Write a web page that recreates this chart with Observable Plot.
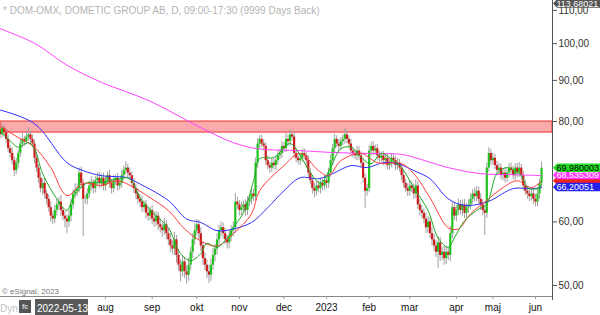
<!DOCTYPE html>
<html><head><meta charset="utf-8">
<script src="https://cdn.jsdelivr.net/npm/d3@7"></script>
<script src="https://cdn.jsdelivr.net/npm/@observablehq/plot@0.6"></script>
<style>
html,body{margin:0;padding:0;background:#fff;}
#chart{width:600px;height:315px;overflow:hidden;}
</style></head><body><div id="chart"></div>
<script>
// ---- data ----
const titleText = "* DOM-OMX, DOMETIC GROUP AB, D, 09:00-17:30 (9999 Days Back)";
const startDate = "2022-05-13";
const holidays = ["2022-05-26","2022-06-06","2022-06-24","2022-12-26","2023-01-06","2023-04-07","2023-04-10","2023-05-01","2023-05-18","2023-06-06"];
const firstLabelledMonth = "2022-08";
const monthNames = ["jan","feb","mar","apr","maj","jun","jul","aug","sep","okt","nov","dec"];
const firstOpen = 78.5;
const closes = [
78,77,78.5,77.5,76,74,73,71.5,69.5,71,
73,75,76,75.5,76.5,77,76,75,72,70,
68,66,67,65,64,62.5,61,60.5,62,63,
63.5,62,61,60.5,60,61,63,65,65.5,66,
69,67,64,64,65,66.5,67,66,67.5,68,
67,68,66.5,67.5,68.5,67,66,67.5,68,66.5,
67,68.5,69.5,70,69,68.5,67,66,65,64,
63.5,62.5,63,61.5,61,62,60.5,60,61,59.5,
59,58.5,59.5,58,57,56,55.5,57,54.5,53,
52,53.5,52,51.5,53,55,57,58.5,59.5,58,
56,54,53,52,51.5,53,54.5,55.5,57,58.5,
59,58,57,56.5,57.5,58.5,59,63.5,63,62,
62.5,63,62,63.5,64,65,64.5,71,75,76,
75,74.5,71.5,70.5,70,71,70.5,71.5,72.5,73,
74.5,74,76,75.5,77,76.5,73,72,71.5,72,
73,72.5,71.5,69,67.5,66,65.5,66.5,66,67,
66.5,67.5,67,69,71.5,74,76,75,74.5,75.5,
76,77,76,75,73.5,73,72.5,73.5,72.5,71,
68,65.5,66,73.5,74.5,73.5,74,72.5,72,72.5,
71.5,72,70.5,71,72,71.5,70.5,71,70,68.5,
67,66,65.5,66.5,66,65,66.5,63,62,61.5,
60.5,59,60,58,57,56,55,56.5,54.5,55,
54,55,54.5,58,62.5,61,62,63,62,63,
61.5,62.5,63,64,65,64.5,65.5,64,63,62,
61.5,70,73,71.5,72,70.5,69.5,70,68.5,69,
68,69,70,69.5,68.5,70,69,70,68.5,66.5,
65.5,65,64.5,65,64,63.5,65,67,69.98];
const wickUp = [
1.2,0.8,1,0.6,0.9,1,0.7,1.2,0.8,1,
0.8,1,1.4,0.7,1,1.6,0.9,1,0.8,1.2,
0.7,1,0.9,1.1,0.6,0.8,1,0.7,0.9,1,
0.8,1.2,0.6,0.8,0.7,1,1.1,0.8,1.4,0.9,
1,1.2,0.8,0.7,1,0.9,1.3,0.7,0.8,1,
1.2,0.8,1,0.9,0.7,1.1,0.8,1,0.6,0.9,
0.8,1,0.9,1.3,0.8,1,0.7,0.9,0.8,1,
0.9,1.1,0.7,0.8,1,0.6,0.9,1.2,0.8,0.7,
1,0.8,1.1,0.7,0.9,1,0.8,1.2,0.7,0.9,
0.8,1,0.7,0.9,1.1,0.8,1,1.2,0.9,0.8,
1,0.7,0.9,0.8,1,0.9,1.1,0.8,1,0.9,
1,0.8,0.9,0.7,1,0.8,1,1.6,0.9,0.8,
1,0.7,0.9,1,0.8,1.1,0.9,1,1.2,0.8,
1,0.9,0.8,1,0.7,0.9,1,0.8,1.1,0.9,
1,0.8,1.3,0.9,1.2,0.8,1,0.9,0.7,1,
0.9,1,0.8,1,0.9,0.7,1,0.8,0.9,1,
0.8,1,0.9,1,1.2,0.9,1.1,0.8,1,0.9,
1,1.3,0.9,0.8,1,0.9,0.8,1,0.9,0.8,
1,0.9,0.8,1.1,0.9,1,0.8,0.9,1,0.8,
0.9,1,0.8,0.9,1,0.8,0.9,1,0.8,0.9,
1,0.8,0.9,1,0.8,0.9,1.2,0.8,1,0.9,
0.8,1,0.9,0.8,1,0.9,0.8,1,0.9,0.8,
1,0.9,0.8,1.2,1,0.8,0.9,1.1,0.8,0.9,
1,0.8,0.9,1,0.8,1.1,0.9,0.8,1,0.9,
0.8,1,1.2,0.9,1,0.8,0.9,1,0.8,0.9,
1,0.8,0.9,1,0.8,0.9,1,1.1,0.8,0.9,
1,0.8,0.9,1,0.8,0.9,1,0.8,1.2];
const wickDn = [
0.8,1,0.7,1.1,0.9,0.8,1,0.9,1.2,0.8,
1,0.8,0.9,1,0.7,0.9,1,0.8,1.1,0.9,
1,0.8,1.2,0.9,1,0.8,1.1,0.9,0.8,1,
0.9,1,0.8,1.5,2,0.9,1,0.8,0.9,1,
0.8,1,6.5,0.9,1,0.8,0.9,1,0.8,0.9,
1,0.8,0.9,1,0.8,0.9,1,0.8,0.9,1,
0.8,0.9,1,0.8,0.9,1,0.8,0.9,1,0.8,
1,0.9,0.8,1,0.9,0.8,1,0.9,0.8,1,
0.9,1.1,0.8,1,0.9,1,0.8,1,1.2,0.9,
1.5,0.8,1,1.3,0.9,0.8,1,0.9,0.8,1,
0.9,1,0.8,1,1.2,0.9,0.8,1,0.9,0.8,
1,0.9,0.8,1,0.9,0.8,1,0.9,0.8,1,
0.9,0.8,1,0.9,0.8,1,0.9,0.8,1,0.9,
0.8,1,0.9,0.8,1,0.9,0.8,1,0.9,0.8,
1,0.9,0.8,1,0.9,0.8,1,0.9,0.8,1,
0.9,0.8,1,0.9,0.8,1,1.2,0.9,0.8,1,
0.9,0.8,1,0.9,0.8,1,0.9,0.8,1,0.9,
0.8,1,0.9,0.8,1,0.9,0.8,1,0.9,0.8,
1,3.2,0.9,0.8,1,0.9,0.8,1,0.9,0.8,
1,0.9,0.8,1,0.9,0.8,1,0.9,0.8,1,
0.9,0.8,1,0.9,0.8,1,0.9,0.8,1,0.9,
0.8,1,0.9,0.8,1,0.9,0.8,2.5,0.9,0.8,
1,0.9,0.8,1,0.9,0.8,1,0.9,0.8,1,
0.9,0.8,1,0.9,0.8,1,0.9,0.8,1,0.9,
3.8,0.9,0.8,1,0.9,0.8,1,0.9,0.8,1,
0.9,0.8,1,0.9,0.8,1,0.9,0.8,1,0.9,
0.8,1,0.9,0.8,1,0.9,0.8,1,0.9];
// moving averages: [trading-day number, value]
const maGreen = [[0,78.3],[6,75.7],[10,74.3],[15,75.3],[18,74.0],[22,68.9],[29,64.1],[34,62.0],[37,64.3],[44,67.1],[51,67.1],[59,67.9],[65,67.9],[70,64.3],[77,61.4],[84,59.0],[90,54.8],[95,53.7],[100,54.8],[103,56.4],[108,55.8],[113,57.3],[116,59.0],[121,61.6],[126,67.5],[129,71.9],[136,72.2],[144,75.1],[149,72.6],[154,69.1],[159,67.1],[164,70.1],[169,74.0],[174,74.3],[179,72.2],[184,70.9],[189,73.0],[195,71.5],[199,70.1],[205,66.2],[212,62.0],[217,57.3],[222,55.8],[225,57.3],[230,60.2],[236,62.0],[241,63.2],[246,68.9],[251,70.1],[258,68.5],[261,66.2],[266,66.0],[268,66.8]];
const maRed = [[0,79.2],[10,76.4],[18,74.3],[26,70.1],[34,64.7],[42,67.0],[51,66.6],[59,67.5],[67,66.2],[75,64.3],[84,62.0],[92,58.8],[100,56.8],[108,56.0],[116,58.0],[125,61.4],[129,65.6],[141,70.5],[149,73.0],[158,69.5],[163,68.5],[169,71.5],[179,73.0],[187,71.1],[199,70.9],[205,68.9],[213,64.3],[222,59.0],[227,58.8],[233,61.4],[241,63.8],[249,66.2],[256,67.5],[263,66.2],[268,67.4]];
const maBlue = [[0,82.8],[18,79.5],[34,71.1],[42,69.5],[51,68.5],[64,68.1],[67,67.5],[84,63.8],[93,60.5],[100,59.9],[108,58.5],[116,58.8],[125,59.9],[133,62.5],[141,65.6],[149,68.1],[158,67.9],[165,68.9],[174,70.5],[182,70.1],[190,71.1],[197,70.9],[205,69.5],[213,67.9],[222,64.1],[230,62.9],[238,63.2],[243,63.8],[254,66.0],[263,66.0],[268,66.2]];
const maMagenta = [[0,104.6],[18,100.1],[34,94.0],[51,89.5],[74,85.0],[100,78.6],[116,75.3],[128,74.0],[149,73.6],[165,73.2],[182,73.0],[199,72.8],[205,72.2],[222,70.1],[238,68.9],[254,68.7],[268,68.5]];
const bandLow = 77.5, bandHigh = 80;
const yTicks = [50, 60, 80, 90, 100, 110];
// last-value tags (red one is hidden behind the others except its arrow)
const lastTags = [
  {value: 67.40519, text: "", bg: "#ee2222", fg: "#fff"},
  {value: 68.535309, text: "68,535309", bg: "#ff33ff", fg: "#fff"},
  {value: 66.20051, text: "66,20051", bg: "#2222ee", fg: "#fff"},
  {value: 69.980003, text: "69,980003", bg: "#22dd22", fg: "#000"}
];
const topTag = {value: 113.68021, text: "113,68021"};
const copyrightText = "© eSignal, 2023";

// ---- build ----
const hol = new Set(holidays);
const dates = [];
let dd = new Date(startDate + "T12:00:00Z");
while (dates.length < closes.length) {
  const iso = dd.toISOString().slice(0, 10);
  const wd = dd.getUTCDay();
  if (wd !== 0 && wd !== 6 && !hol.has(iso)) dates.push(iso);
  dd = new Date(dd.getTime() + 864e5);
}
const rows = closes.map((c, i) => {
  const o = i === 0 ? firstOpen : closes[i - 1];
  return {i, o, c, h: Math.max(o, c) + wickUp[i], l: Math.min(o, c) - wickDn[i], col: c >= o ? "#1fc21f" : "#cc1c1c"};
});
const monthTicks = [];
dates.forEach((iso, i) => {
  if (i > 0 && iso.slice(0, 7) !== dates[i - 1].slice(0, 7) && iso.slice(0, 7) >= firstLabelledMonth) monthTicks.push(i);
});
const tickText = i => { const [y, m] = dates[i].split("-"); return m === "01" ? y : monthNames[+m - 1]; };

const xDomain = [1.23, 273.4];
const yDomain = [48.45, 113.16];
const font = "Liberation Sans, Arial, sans-serif";

const plot = Plot.plot({
  width: 600, height: 315,
  marginLeft: 0, marginRight: 48, marginTop: 0, marginBottom: 19,
  x: {type: "linear", domain: xDomain, axis: null},
  y: {type: "log", domain: yDomain, axis: null},
  color: {type: "identity"},
  style: {fontFamily: font, background: "#fff", overflow: "visible"},
  marks: [
    Plot.rect([{lo: bandLow, hi: bandHigh}], {x1: () => xDomain[0], x2: () => xDomain[1], y1: "lo", y2: "hi", fill: "#f9abab", stroke: "#ee3030", strokeWidth: 1}),
    Plot.ruleX(rows, {x: "i", y1: "l", y2: "h", stroke: "#a0a0a0", strokeWidth: 1, clip: true}),
    Plot.ruleX(rows, {x: "i", y1: "o", y2: "c", stroke: "col", strokeWidth: 2.2, clip: true}),
    Plot.line(maMagenta, {x: d => d[0], y: d => d[1], stroke: "#ff40ff", strokeWidth: 1, curve: "catmull-rom", clip: true}),
    Plot.line(maBlue, {x: d => d[0], y: d => d[1], stroke: "#3030ff", strokeWidth: 1, curve: "catmull-rom", clip: true}),
    Plot.line(maRed, {x: d => d[0], y: d => d[1], stroke: "#ff3c3c", strokeWidth: 1, curve: "catmull-rom", clip: true}),
    Plot.line(maGreen, {x: d => d[0], y: d => d[1], stroke: "#22a822", strokeWidth: 1, curve: "catmull-rom", clip: true}),
    Plot.ruleY([yDomain[0]], {stroke: "#888"}),
    Plot.ruleX([xDomain[1]], {y1: yDomain[1], y2: 47.9, stroke: "#555"}),
    Plot.axisY(yTicks, {anchor: "right", tickSize: 4, tickPadding: 2, fontSize: 10, fill: "#333", stroke: "#555", tickFormat: d => d.toFixed(2).replace(".", ","), label: null}),
    Plot.axisX(monthTicks, {anchor: "bottom", tickSize: 3, tickPadding: 4, fontSize: 10, fill: "#111", stroke: "#999", tickFormat: tickText, label: null})
  ]
});

const svg = d3.select(plot);
const ys = plot.scale("y");
const g = svg.append("g").attr("font-family", font).attr("text-anchor", "start");
g.append("text").attr("x", 3).attr("y", 10).attr("dy", "0.35em").attr("font-size", 10).attr("fill", "#b4b4b4").text(titleText);
g.append("text").attr("x", 2).attr("y", 291).attr("dy", "0.35em").attr("font-size", 8).attr("fill", "#777").text(copyrightText);
g.append("text").attr("x", 0).attr("y", 308).attr("dy", "0.35em").attr("font-size", 10).attr("fill", "#c4c4c4").text("Dyn");
g.append("rect").attr("x", 19).attr("y", 300).attr("width", 12).attr("height", 13).attr("fill", "#555");
g.append("text").attr("x", 25).attr("y", 307).attr("dy", "0.35em").attr("text-anchor", "middle").attr("font-size", 7).attr("font-weight", "bold").attr("fill", "#ddd").text("fc");
g.append("rect").attr("x", 35).attr("y", 299).attr("width", 53).attr("height", 16).attr("fill", "#5a5a5a");
g.append("text").attr("x", 37).attr("y", 308).attr("dy", "0.35em").attr("font-size", 10).attr("fill", "#fff").text(startDate);

function tag(v, text, bg, fg, yFix) {
  const yy = yFix !== undefined ? yFix : ys.apply(v);
  const t = g.append("g");
  t.append("polygon").attr("points", [[553, yy], [557, yy - 4.3], [600, yy - 4.3], [600, yy + 4.3], [557, yy + 4.3]].map(p => p.join(",")).join(" ")).attr("fill", bg);
  if (text) t.append("text").attr("x", 556.5).attr("y", yy).attr("dy", "0.35em").attr("font-size", 9).attr("fill", fg).text(text);
}
lastTags.forEach(d => tag(d.value, d.text, d.bg, d.fg));
tag(topTag.value, topTag.text, "#555", "#fff", Math.max(ys.apply(topTag.value), 3.5));

document.getElementById("chart").appendChild(plot);
</script></body></html>
